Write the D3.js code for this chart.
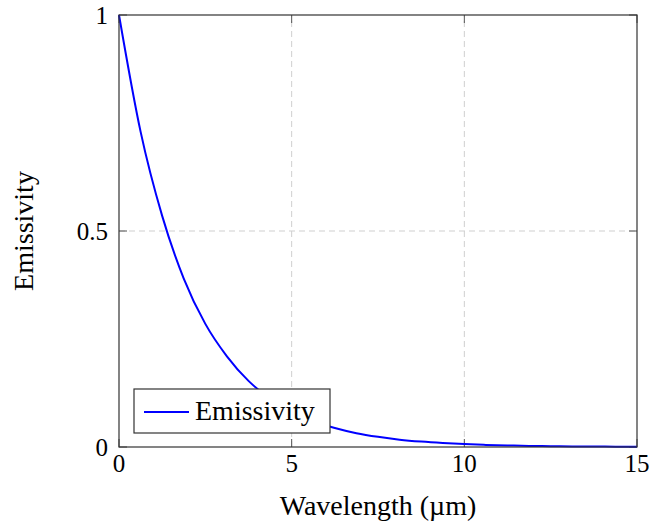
<!DOCTYPE html>
<html>
<head>
<meta charset="utf-8">
<script src="https://cdn.jsdelivr.net/npm/d3@7"></script>
<style>
  body { margin: 0; background: #fff; }
  text { font-family: "Liberation Serif", "Times New Roman", serif; fill: #000; }
</style>
</head>
<body>
<div id="chart"></div>
<script>
// wavelength samples (um) and emissivity
var wavelength = [0, 0.625, 1.25, 1.875, 2.5, 3.125, 3.75, 4.375, 5, 5.625, 6.25, 6.875,
                  7.5, 8.125, 8.75, 9.375, 10, 10.625, 11.25, 11.875, 12.5, 13.125, 13.75, 14.375, 15];
var emissivity = [1.0, 0.73, 0.535, 0.39, 0.285, 0.21, 0.153, 0.112, 0.082, 0.06, 0.044, 0.032,
                  0.0235, 0.017, 0.0125, 0.0092, 0.0067, 0.0049, 0.0036, 0.0026, 0.0019, 0.0014, 0.001, 0.0008, 0.0006];
var xTicks = [0, 5, 10, 15];
var yTicks = [0, 0.5, 1];
var seriesName = "Emissivity";

var width = 652,
	height = 525,
	margin = {left: 119, right: 15, top: 15, bottom: 78};

var svg = d3.select("#chart").append("svg")
	.attr("width", width)
	.attr("height", height);

var x = d3.scaleLinear().domain([0, 15]).range([margin.left, width - margin.right]);
var y = d3.scaleLinear().domain([0, 1]).range([height - margin.bottom, margin.top]);

var x0 = x.range()[0], x1 = x.range()[1],
	yb = y.range()[0], yt = y.range()[1];

// grid
var grid = svg.append("g").attr("stroke", "#cfcfcf").attr("stroke-width", 1)
	.attr("stroke-dasharray", "6,4");
grid.selectAll(".gx").data(xTicks.slice(1, -1)).enter().append("line")
	.attr("x1", function(d){ return x(d); }).attr("x2", function(d){ return x(d); })
	.attr("y1", yb).attr("y2", yt);
grid.selectAll(".gy").data(yTicks.slice(1, -1)).enter().append("line")
	.attr("y1", function(d){ return y(d); }).attr("y2", function(d){ return y(d); })
	.attr("x1", x0).attr("x2", x1);

// inward tick marks on all four sides
var ticks = svg.append("g").attr("stroke", "#555").attr("stroke-width", 1);
xTicks.forEach(function(t){
	ticks.append("line").attr("x1", x(t)).attr("x2", x(t)).attr("y1", yb).attr("y2", yb - 8);
	ticks.append("line").attr("x1", x(t)).attr("x2", x(t)).attr("y1", yt).attr("y2", yt + 8);
});
yTicks.forEach(function(t){
	ticks.append("line").attr("y1", y(t)).attr("y2", y(t)).attr("x1", x0).attr("x2", x0 + 8);
	ticks.append("line").attr("y1", y(t)).attr("y2", y(t)).attr("x1", x1).attr("x2", x1 - 8);
});

// curve
var pts = wavelength.map(function(w, i){ return [w, emissivity[i]]; });
var line = d3.line()
	.curve(d3.curveMonotoneX)
	.x(function(d){ return x(d[0]); })
	.y(function(d){ return y(d[1]); });
svg.append("path")
	.datum(pts)
	.attr("d", line)
	.attr("fill", "none")
	.attr("stroke", "#0000ff")
	.attr("stroke-width", 2)
	.attr("stroke-linejoin", "round");

// frame
svg.append("rect")
	.attr("x", x0).attr("y", yt)
	.attr("width", x1 - x0).attr("height", yb - yt)
	.attr("fill", "none")
	.attr("stroke", "#333")
	.attr("stroke-width", 1.2);

// tick labels
svg.selectAll(".xl").data(xTicks).enter().append("text")
	.attr("x", function(d){ return x(d); })
	.attr("y", yb + 25)
	.attr("text-anchor", "middle")
	.attr("font-size", 25)
	.text(function(d){ return d; });
svg.selectAll(".yl").data(yTicks).enter().append("text")
	.attr("x", x0 - 11)
	.attr("y", function(d){ return y(d) + 9; })
	.attr("text-anchor", "end")
	.attr("font-size", 25)
	.text(function(d){ return d; });

// axis titles
svg.append("text")
	.attr("x", (x0 + x1) / 2)
	.attr("y", 515)
	.attr("text-anchor", "middle")
	.attr("font-size", 28)
	.text("Wavelength (\u00b5m)");
svg.append("text")
	.attr("transform", "translate(33," + ((yt + yb) / 2) + ") rotate(-90)")
	.attr("text-anchor", "middle")
	.attr("font-size", 28)
	.text("Emissivity");

// legend
var leg = svg.append("g");
leg.append("rect")
	.attr("x", 134).attr("y", 389)
	.attr("width", 196).attr("height", 44)
	.attr("fill", "#fff")
	.attr("stroke", "#333")
	.attr("stroke-width", 1.2);
leg.append("line")
	.attr("x1", 144).attr("x2", 189)
	.attr("y1", 412).attr("y2", 412)
	.attr("stroke", "#0000ff").attr("stroke-width", 2);
leg.append("text")
	.attr("x", 195).attr("y", 420)
	.attr("font-size", 28)
	.text(seriesName);
</script>
</body>
</html>
